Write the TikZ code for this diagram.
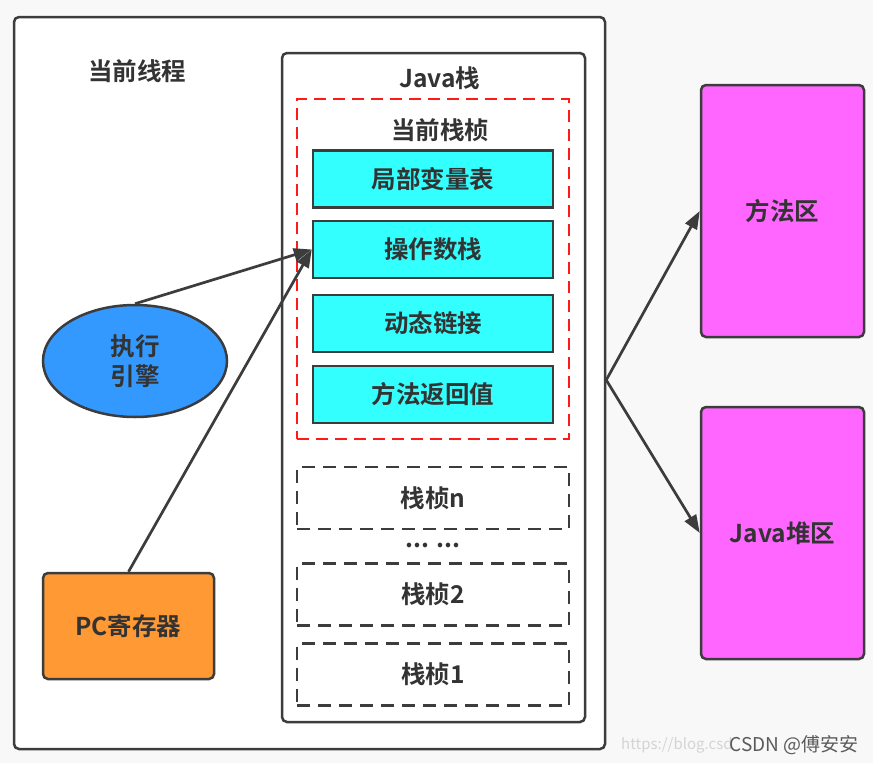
\documentclass[tikz,border=0pt]{standalone}
\usepackage{fontspec}
\setmainfont{Noto Sans CJK SC}[BoldFont={Noto Sans CJK SC Bold}]
\usetikzlibrary{arrows.meta,shapes.geometric}
\definecolor{bgc}{HTML}{F8F8F8}
\definecolor{ink}{HTML}{333333}
\definecolor{edge}{HTML}{3C3C3C}
\definecolor{cyanfill}{HTML}{33FFFF}
\definecolor{bluefill}{HTML}{3399FF}
\definecolor{orangefill}{HTML}{FF9933}
\definecolor{pinkfill}{HTML}{FF66FF}
\definecolor{redline}{HTML}{FF1A1A}
\definecolor{wm}{HTML}{D4D4D4}
\definecolor{wmdark}{HTML}{5A5A5A}
\tikzset{
  txt/.style={text=ink, font=\fontsize{24.5}{30}\selectfont\bfseries, inner sep=0pt},
  container/.style={draw=edge, line width=2.5pt, fill=white, rounded corners=5pt},
  slotbox/.style={draw=edge, line width=2.5pt, fill=cyanfill, minimum width=240pt, minimum height=57pt, txt},
  framebox/.style={draw=edge, line width=2.5pt, dash pattern=on 13pt off 8pt, minimum width=272pt, minimum height=62pt, txt},
  areabox/.style={draw=edge, line width=2.5pt, fill=pinkfill, rounded corners=5pt, minimum width=163pt, minimum height=252pt, txt},
  conn/.style={draw=edge, line width=2.7pt, -{Triangle[length=18pt,width=13pt]}}
}
\begin{document}
\begin{tikzpicture}[x=1pt,y=-1pt]
\fill[bgc] (0,0) rectangle (873,763);
\useasboundingbox (0,0) rectangle (873,763);

% outer thread box
\node[container, minimum width=591pt, minimum height=732pt] (thread) at (309.5,383) {};
\node[txt] (threadlbl) at (137,71) {当前线程};

% java stack
\node[container, minimum width=303pt, minimum height=669pt] (stack) at (433.5,387.5) {};
\node[txt] (stacklbl) at (440,78) {Java栈};

% current frame
\node[draw=redline, line width=2.5pt, dash pattern=on 12pt off 7pt, minimum width=272pt, minimum height=340pt] (cur) at (433,269) {};
\node[txt] (curlbl) at (440,130) {当前栈桢};

\node[slotbox] (locals) at (433,179) {局部变量表};
\node[slotbox] (opstack) at (433,249.5) {操作数栈};
\node[slotbox] (dynlink) at (433,323.5) {动态链接};
\node[slotbox] (retval) at (433,394.5) {方法返回值};

% other frames
\node[framebox] (fn) at (433,498) {栈桢n};
\node[txt] (dots) at (433,545) {... ...};
\node[framebox] (f2) at (433,594.5) {栈桢2};
\node[framebox] (f1) at (433,674.5) {栈桢1};

% execution engine and pc
\node[ellipse, draw=edge, line width=2.5pt, fill=bluefill, minimum width=184pt, minimum height=112pt, txt, align=center] (engine) at (135,361) {执行\\引擎};
\node[draw=edge, line width=2.5pt, fill=orangefill, rounded corners=5pt, minimum width=171pt, minimum height=106pt, txt] (pc) at (128.5,626) {PC寄存器};

% shared areas
\node[areabox] (method) at (782.5,211) {方法区};
\node[areabox] (heap) at (782.5,533) {Java堆区};

% connectors
\draw[conn] (engine.north) -- (opstack.west);
\draw[conn] (pc.north) -- (opstack.west);
\coordinate (split) at (thread.east |- 0,380);
\draw[conn] (split) -- (method.west);
\draw[conn] (split) -- (heap.west);

% watermark
\node[anchor=west, text=wm, font=\fontsize{15}{18}\selectfont, inner sep=0pt] (wmurl) at (621,745) {https://blog.csd};
\node[anchor=east, text=wmdark, font=\fontsize{19}{22}\selectfont, inner sep=0pt] (wmname) at (859,745) {CSDN @傅安安};
\end{tikzpicture}
\end{document}
